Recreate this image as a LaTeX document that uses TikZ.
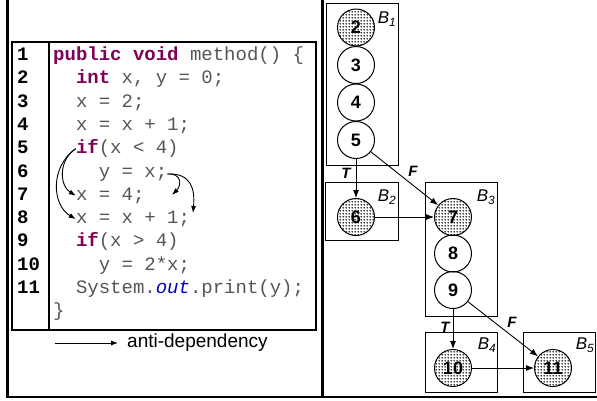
\documentclass[tikz,border=0pt]{standalone}
\usepackage{fontspec}
\setmainfont{Liberation Sans}
\newfontfamily\codefont{Liberation Mono}
\usetikzlibrary{arrows.meta,patterns}
\definecolor{codegray}{RGB}{85,85,85}
\definecolor{kwpurple}{RGB}{127,0,85}
\definecolor{fieldblue}{RGB}{0,0,192}
\newcommand{\kw}[1]{\textcolor{kwpurple}{\bfseries #1}}
% denser dots than the built-in pattern
\pgfdeclarepatternformonly{bigdots}{\pgfpointorigin}{\pgfqpoint{3pt}{3pt}}{\pgfqpoint{3pt}{3pt}}
{\pgfpathcircle{\pgfqpoint{1.5pt}{1.5pt}}{1pt}\pgfusepath{fill}}
\begin{document}
\begin{tikzpicture}[x=1pt,y=-1pt,
    stmt/.style={circle,draw,line width=1pt,minimum size=37pt,inner sep=0pt,
      font=\bfseries\fontsize{18}{18}\selectfont},
    defs/.style={stmt,pattern=bigdots},
    block/.style={draw,line width=0.9pt},
    blabel/.style={font=\itshape\fontsize{17}{17}\selectfont},
    br/.style={font=\bfseries\itshape\fontsize{15}{15}\selectfont},
    codeline/.style={anchor=base west,inner sep=0pt,text=codegray,
      font=\codefont\fontsize{19}{19}\selectfont},
    lineno/.style={anchor=base west,inner sep=0pt,
      font=\codefont\bfseries\fontsize{19}{19}\selectfont},
    flow/.style={-{Latex[length=8pt,width=6pt]},line width=0.9pt},
    dep/.style={-{Latex[length=7pt,width=5pt]},line width=0.9pt}]
        \useasboundingbox (0,0) rectangle (597,400);
        \pgfmathsetmacro{\lineskp}{23.3} % distance between two code lines
        \pgfmathsetmacro{\charw}{11.4}   % width of one mono char
        
        %% outer frame and divider
        \draw[line width=2.4pt] (7.5,0) -- (7.5,397) -- (597,397);
        \draw[line width=2.4pt] (322.5,0) -- (322.5,397);
        
        %% the code listing
        \draw[line width=2pt] (11.5,41.5) rectangle (316,329.5);
        \draw[line width=2pt] (49,41.5) -- (49,329.5);
        \foreach \i in {1,...,11}
        {
            \node[lineno] (n\i) at (17, {60.5+(\i-1)*\lineskp}) {\i};
        };
        \foreach \i/\ind/\txt in
        {1/0/{\kw{public} \kw{void} method() \{},
            2/2/{\kw{int} x, y = 0;},
            3/2/{x = 2;},
            4/2/{x = x + 1;},
            5/2/{\kw{if}(x < 4)},
            6/4/{y = x;},
            7/2/{x = 4;},
            8/2/{x = x + 1;},
            9/2/{\kw{if}(x > 4)},
            10/4/{y = 2*x;},
            11/2/{System.\textcolor{fieldblue}{\itshape out}.print(y);},
            12/0/{\}}}
        {
            \node[codeline] (c\i) at ({53+\ind*\charw}, {60.5+(\i-1)*\lineskp}) {\txt};
        };
        
        %% anti-dependencies
        \coordinate (a7) at (172,195);
        \coordinate (a8) at (193,213);
        \draw[dep] (c5.west) .. controls +(-18,12) and +(-16,-10) .. (c7.west);
        \draw[dep] (c5.west) .. controls +(-26,18) and +(-24,-14) .. (c8.west);
        \draw[dep] (c6.east) .. controls +(14,-1) and +(10,-10) .. (a7);
        \draw[dep] (c6.east) .. controls +(24,-1) and +(2,-24) .. (a8);
        
        %% legend
        \coordinate (lg0) at (55,343);
        \node[anchor=west,inner sep=0pt,font=\fontsize{19}{19}\selectfont] (lg) at (127,343) {anti-dependency};
        \draw[dep] (lg0) -- ([xshift=-9pt]lg.west);
        
        %% basic blocks
        \foreach \a/\b/\c/\d in
        {326/3/398/165,
            325/182/398/240,
            425/182/497/316,
            425/332/497/392,
            523/332/595/392}
        {
            \draw[block] (\a,\b) rectangle (\c,\d);
        };
        \foreach \k/\x/\y in
        {1/387/19,
            2/387/197,
            3/486/197,
            4/487/345,
            5/585/345}
        {
            \node[blabel] (b\k) at (\x,\y) {B\textsubscript{\k}};
        };
        
        %% statements
        \foreach \s/\n/\x/\y in
        {defs/2/356/27.5,
            stmt/3/356/65,
            stmt/4/356/102.5,
            stmt/5/356/140,
            defs/6/356/217,
            defs/7/453/217,
            stmt/8/453/253.5,
            stmt/9/453/290,
            defs/10/453/368,
            defs/11/553/368}
        {
            \node[\s] (s\n) at (\x,\y) {\n};
        };
        
        %% control flow
        \draw[flow] (s5) -- (s6);
        \draw[flow] (s5) -- (s7);
        \draw[flow] (s6) -- (s7);
        \draw[flow] (s9) -- (s10);
        \draw[flow] (s9) -- (s11);
        \draw[flow] (s10) -- (s11);
        \node[br] (t1) at (346,173) {T};
        \node[br] (f1) at (413,171) {F};
        \node[br] (t2) at (445,327) {T};
        \node[br] (f2) at (512,322) {F};
\end{tikzpicture}
\end{document}
